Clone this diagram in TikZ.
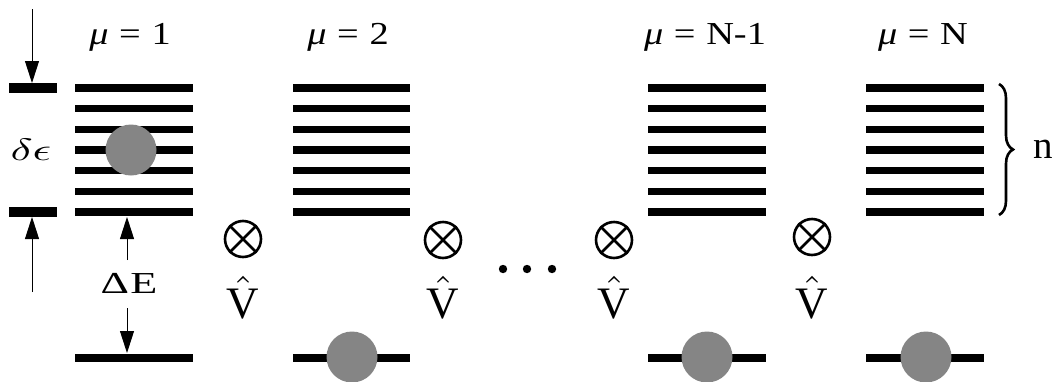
\documentclass[tikz,border=0pt]{standalone}
\usepackage{graphicx}
\usepackage{fontspec}
\setmainfont{Liberation Serif}
\usetikzlibrary{arrows.meta,decorations.pathreplacing}
\newcommand{\hs}[1]{\scalebox{#1}[1]}
\begin{document}
\begin{tikzpicture}[x=1pt,y=-1pt,
  level/.style={line width=7.5pt},
  bar/.style={line width=10pt},
  arr/.style={line width=0.9pt,-{Triangle[length=22pt,width=14pt]}},
  ball/.style={circle,fill=black!48,inner sep=0pt,minimum size=51pt},
  otimes/.style={circle,draw,line width=2.6pt,inner sep=0pt,minimum size=36pt},
  lab/.style={font=\fontsize{32}{36}\selectfont,anchor=base,inner sep=0pt},
  vhat/.style={anchor=base,inner sep=0pt}]
\useasboundingbox (0,0) rectangle (1052,381);
% columns
\foreach \xa/\xb/\nm in {75/193/a,293/410/b,648/766/c,866/984/d}{
  \foreach \k in {0,...,6}{
    \draw[level] (\xa,88+\k*20.67) -- (\xb,88+\k*20.67);
  }
  \draw[level] (\xa,358) -- (\xb,358);
}
% labels
\node[lab] (l1) at (130,44) {\hs{1.2}{{\itshape μ}\;=\;1}};
\node[lab] (l2) at (348,44) {\hs{1.2}{{\itshape μ}\;=\;2}};
\node[lab] (l3) at (705,44) {\hs{1.2}{{\itshape μ}\;=\;N-1}};
\node[lab] (l4) at (923,44) {\hs{1.2}{{\itshape μ}\;=\;N}};
% balls
\node[ball] (b1) at (131,150) {};
\node[ball] (b2) at (352,357) {};
\node[ball] (b3) at (707,357) {};
\node[ball] (b4) at (926,357) {};
% left bars and arrows
\draw[bar] (9,88) -- (57,88);
\draw[bar] (9,212) -- (57,212);
\coordinate (tA) at (32,9);
\coordinate (hA) at (32,83);
\coordinate (tB) at (32,292);
\coordinate (hB) at (32,217);
\draw[arr] (tA) -- (hA);
\draw[arr] (tB) -- (hB);
\node[anchor=base,inner sep=0pt] (de) at (31,160) {\scalebox{4.6}[3.1]{$\delta\epsilon$}};
% Delta E
\node[font=\fontsize{30.5}{36}\selectfont,anchor=base,inner sep=0pt] (DE) at (129,293) {\hs{1.45}{Δ\kern1ptE}};
\coordinate (dEa) at (127,260);
\coordinate (dEb) at (127,217);
\coordinate (dEc) at (127,308);
\coordinate (dEd) at (127,353);
\draw[arr] (dEa) -- (dEb);
\draw[arr] (dEc) -- (dEd);
% otimes and V hats
\foreach \x/\y/\i in {243/239/1,443/240/2,614/240/3,812/237/4}{
  \node[otimes] (o\i) at (\x,\y) {};
  \draw[line width=2.6pt] (o\i.north west) -- (o\i.south east);
  \draw[line width=2.6pt] (o\i.north east) -- (o\i.south west);
  \node[vhat] (v\i) at (\x,318) {\scalebox{4.5}{$\hat{\mathrm{V}}$}};
}
% dots
\foreach \x/\i in {503/1,527/2,552/3}{
  \fill (\x,269) circle (4.2pt) coordinate (dot\i);
}
% brace
\coordinate (br1) at (999,84);
\coordinate (br2) at (999,215);
\draw[line width=2.6pt,decorate,decoration={brace,amplitude=14pt}] (br1) -- (br2);
\node[font=\fontsize{39}{44}\selectfont,anchor=base,inner sep=0pt] (n) at (1043,158) {n};
\end{tikzpicture}
\end{document}
